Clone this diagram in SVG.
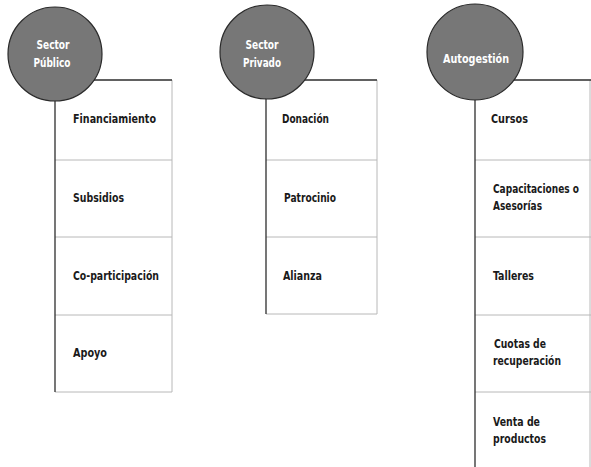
<svg xmlns="http://www.w3.org/2000/svg" width="591" height="467" viewBox="0 0 591 467">
<style>
.sep{stroke:#b8b8b8;stroke-width:1;fill:none}
.edge{stroke:#2e2e2e;stroke-width:1.3;fill:none}
.lbl{font-family:"DejaVu Sans Condensed","Liberation Sans",sans-serif;font-weight:bold;font-size:12px;fill:#1a1a1a}
.hub{fill:#777777;stroke:#2a2a2a;stroke-width:1.2}
.hubt{font-family:"DejaVu Sans Condensed","Liberation Sans",sans-serif;font-weight:bold;font-size:12.5px;fill:#ffffff;text-anchor:middle}
</style>
<rect width="591" height="467" fill="#ffffff"/>

<g id="connectors">
  <path class="sep" d="M172,80 V392 M55,160 H172 M55,237 H172 M55,315 H172 M55,392 H172"/>
  <path class="edge" d="M55,392 V80 H172"/>
  <path class="sep" d="M377,80 V314 M266,160 H377 M266,237 H377 M266,314 H377"/>
  <path class="edge" d="M266,314 V80 H377"/>
  <path class="sep" d="M590,80 V467 M475,160 H591 M475,237 H591 M475,315 H591 M475,392 H591"/>
  <path class="edge" d="M475,467 V80 H591"/>
</g>

<g id="col1-items">
  <g id="financiamiento"><text class="lbl" x="73" y="123" textLength="83" lengthAdjust="spacingAndGlyphs">Financiamiento</text></g>
  <g id="subsidios"><text class="lbl" x="73" y="202" textLength="51" lengthAdjust="spacingAndGlyphs">Subsidios</text></g>
  <g id="coparticipacion"><text class="lbl" x="73" y="280" textLength="86" lengthAdjust="spacingAndGlyphs">Co-participación</text></g>
  <g id="apoyo"><text class="lbl" x="73" y="357" textLength="34" lengthAdjust="spacingAndGlyphs">Apoyo</text></g>
</g>

<g id="col2-items">
  <g id="donacion"><text class="lbl" x="282" y="123" textLength="47" lengthAdjust="spacingAndGlyphs">Donación</text></g>
  <g id="patrocinio"><text class="lbl" x="284" y="202" textLength="52" lengthAdjust="spacingAndGlyphs">Patrocinio</text></g>
  <g id="alianza"><text class="lbl" x="283" y="280" textLength="39" lengthAdjust="spacingAndGlyphs">Alianza</text></g>
</g>

<g id="col3-items">
  <g id="cursos"><text class="lbl" x="491" y="123" textLength="37" lengthAdjust="spacingAndGlyphs">Cursos</text></g>
  <g id="capacitaciones"><text class="lbl" x="493" y="193" textLength="86" lengthAdjust="spacingAndGlyphs">Capacitaciones o</text><text class="lbl" x="493" y="210" textLength="49" lengthAdjust="spacingAndGlyphs">Asesorías</text></g>
  <g id="talleres"><text class="lbl" x="493" y="280" textLength="41" lengthAdjust="spacingAndGlyphs">Talleres</text></g>
  <g id="cuotas"><text class="lbl" x="494" y="348" textLength="52" lengthAdjust="spacingAndGlyphs">Cuotas de</text><text class="lbl" x="493" y="365" textLength="68" lengthAdjust="spacingAndGlyphs">recuperación</text></g>
  <g id="venta"><text class="lbl" x="493" y="426" textLength="47" lengthAdjust="spacingAndGlyphs">Venta de</text><text class="lbl" x="493" y="443" textLength="53" lengthAdjust="spacingAndGlyphs">productos</text></g>
</g>

<g id="sector-publico">
  <circle class="hub" cx="55" cy="54" r="47"/>
  <text class="hubt" x="53" y="49" textLength="33" lengthAdjust="spacingAndGlyphs">Sector</text>
  <text class="hubt" x="52" y="67" textLength="37" lengthAdjust="spacingAndGlyphs">Público</text>
</g>
<g id="sector-privado">
  <circle class="hub" cx="267" cy="52" r="47"/>
  <text class="hubt" x="262" y="49" textLength="33" lengthAdjust="spacingAndGlyphs">Sector</text>
  <text class="hubt" x="262" y="67" textLength="38" lengthAdjust="spacingAndGlyphs">Privado</text>
</g>
<g id="autogestion">
  <circle class="hub" cx="475" cy="52" r="48"/>
  <text class="hubt" x="476" y="63" textLength="66" lengthAdjust="spacingAndGlyphs">Autogestión</text>
</g>
</svg>
